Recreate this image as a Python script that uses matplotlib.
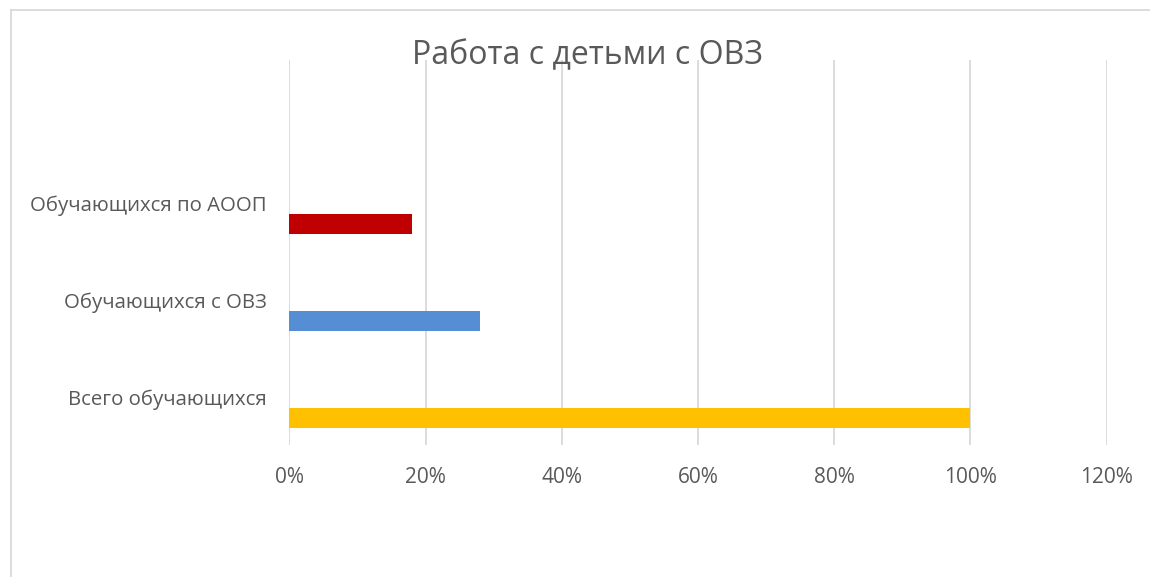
import matplotlib.pyplot as plt
from matplotlib.lines import Line2D
from matplotlib.ticker import FuncFormatter

# data
categories = ['Всего обучающихся', 'Обучающихся с ОВЗ', 'Обучающихся по АООП', '']
values = [1.00, 0.28, 0.18]
colors = ['#FFC000', '#558ED5', '#C00000']
xticks = [0, 0.2, 0.4, 0.6, 0.8, 1.0, 1.2]

plt.rcParams['font.family'] = ['Open Sans', 'DejaVu Sans']
text_color = '#595959'
grid_color = '#D9D9D9'

W, H = 1150, 577
fig = plt.figure(figsize=(W / 100, H / 100), dpi=100)
ax = fig.add_axes([289.3 / W, 1 - 445 / H, (1106.7 - 289.3) / W, (445 - 60) / H])

# bars sit a bit below their category label (Excel cluster offset)
for i, v in enumerate(values):
    ax.barh(i - 0.216, v, height=0.206, color=colors[i], zorder=3)

ax.set_xlim(0, 1.2)
ax.set_ylim(-0.495, 3.474)
ax.set_xticks(xticks)
ax.xaxis.set_major_formatter(FuncFormatter(lambda x, p: f'{x * 100:.0f}%'))
ax.set_yticks(range(len(categories)))
ax.set_yticklabels(categories)

ax.grid(axis='x', color=grid_color, linewidth=1.3, zorder=0)
ax.tick_params(axis='both', length=0, labelcolor=text_color)
ax.tick_params(axis='x', pad=16, labelsize=15)
ax.tick_params(axis='y', pad=16, labelsize=14.7)
for s in ax.spines.values():
    s.set_visible(False)

fig.text(587 / W, 1 - 56 / H, 'Работа с детьми с ОВЗ', ha='center', va='center',
         fontsize=23, color=text_color)

# chart area border (only top and left are inside the picture)
fig.add_artist(Line2D([10.5 / W, 10.5 / W], [0, 1 - 9.5 / H], transform=fig.transFigure,
                      color=grid_color, linewidth=1.3))
fig.add_artist(Line2D([10.5 / W, 1], [1 - 9.5 / H, 1 - 9.5 / H], transform=fig.transFigure,
                      color=grid_color, linewidth=1.3))

plt.savefig('out.png', dpi=100)
